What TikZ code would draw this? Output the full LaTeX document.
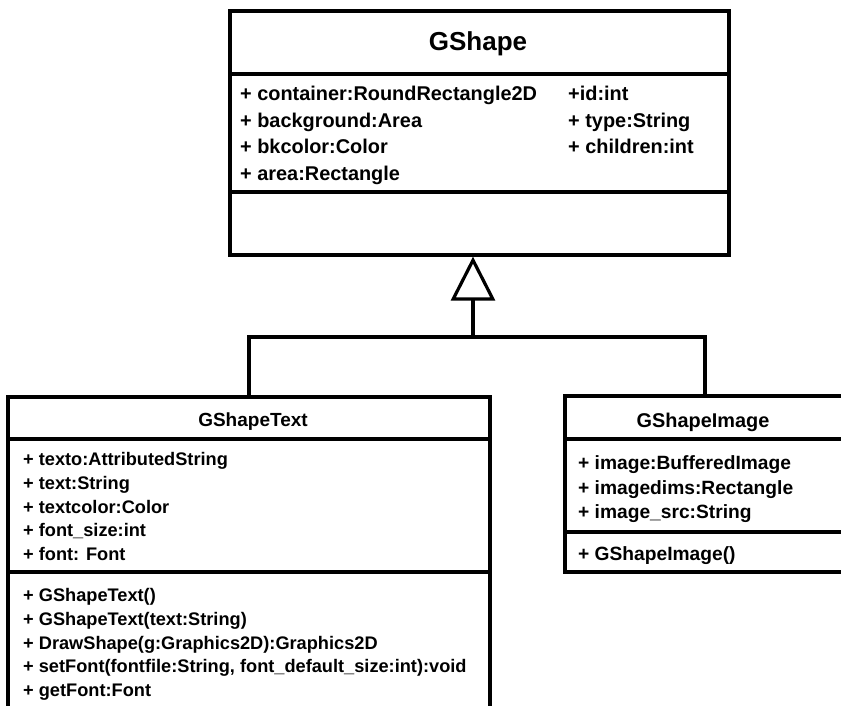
\documentclass[tikz,border=0pt]{standalone}
\usepackage{fontspec}
\setmainfont{Liberation Sans}
\usetikzlibrary{arrows.meta}

\begin{document}
\begin{tikzpicture}[x=1pt,y=-1pt,
  umlline/.style={line width=3.2pt, black},
  classbox/.style={draw, umlline, rectangle, inner sep=0pt, fill=white},
  titletext/.style={anchor=base, inner sep=0pt, font=\bfseries\fontsize{#1}{#1}\selectfont},
  rowtext/.style={anchor=base west, inner sep=0pt, font=\bfseries\fontsize{#1}{#1}\selectfont},
  generalization/.style={umlline, -{Triangle[open, length=44pt, width=44pt, line width=3.2pt]}}
]
\useasboundingbox (0,0) rectangle (841,706);
\fill[white] (0,0) rectangle (841,706);

% ---------- GShape ----------
\node[classbox, minimum width=499pt, minimum height=244pt] (gshape) at (479.5,133) {};
\draw[umlline] (gshape.west |- 0,74) -- (gshape.east |- 0,74);
\draw[umlline] (gshape.west |- 0,192) -- (gshape.east |- 0,192);
\node[titletext=26] (gshapeTitle) at (478,51) {GShape};
\node[rowtext=19.9] (gsA1) at (240,101) {+ container:RoundRectangle2D};
\node[rowtext=19.9] (gsA2) at (240,127.5) {+ background:Area};
\node[rowtext=19.9] (gsA3) at (240,154) {+ bkcolor:Color};
\node[rowtext=19.9] (gsA4) at (240,180.5) {+ area:Rectangle};
\node[rowtext=19.9] (gsB1) at (568,101) {+id:int};
\node[rowtext=19.9] (gsB2) at (568,127.5) {+ type:String};
\node[rowtext=19.9] (gsB3) at (568,154) {+ children:int};

% ---------- GShapeText ----------
\node[classbox, minimum width=482pt, minimum height=318pt] (gtext) at (249,556) {};
\draw[umlline] (gtext.west |- 0,439) -- (gtext.east |- 0,439);
\draw[umlline] (gtext.west |- 0,572) -- (gtext.east |- 0,572);
\node[titletext=19] (gtextTitle) at (253,426) {GShapeText};
\node[rowtext=18.2] (gtA1) at (23,465.5) {+ texto:AttributedString};
\node[rowtext=18.2] (gtA2) at (23,489.5) {+ text:String};
\node[rowtext=18.2] (gtA3) at (23,513) {+ textcolor:Color};
\node[rowtext=18.2] (gtA4) at (23,536.5) {+ font\_size:int};
\node[rowtext=18.2] (gtA5) at (23,560) {+ font: Font};
\node[rowtext=18.2] (gtM1) at (23,601.5) {+ GShapeText()};
\node[rowtext=18.2] (gtM2) at (23,625.5) {+ GShapeText(text:String)};
\node[rowtext=18.2] (gtM3) at (23,649.5) {+ DrawShape(g:Graphics2D):Graphics2D};
\node[rowtext=18.2] (gtM4) at (23,672.5) {+ setFont(fontfile:String, font\_default\_size:int):void};
\node[rowtext=18.2] (gtM5) at (23,696.5) {+ getFont:Font};

% ---------- GShapeImage ----------
\node[classbox, minimum width=280pt, minimum height=176pt] (gimage) at (705,484) {};
\draw[umlline] (gimage.west |- 0,439) -- (gimage.east |- 0,439);
\draw[umlline] (gimage.west |- 0,532) -- (gimage.east |- 0,532);
\node[titletext=19.9] (gimageTitle) at (703,427) {GShapeImage};
\node[rowtext=19.2] (giA1) at (578,469) {+ image:BufferedImage};
\node[rowtext=19.2] (giA2) at (578,494) {+ imagedims:Rectangle};
\node[rowtext=19.2] (giA3) at (578,518) {+ image\_src:String};
\node[rowtext=19.2] (giM1) at (578,560) {+ GShapeImage()};

% ---------- Generalization ----------
\coordinate (fork) at (473,337);
\draw[umlline] (gtext.north) |- (fork) -| (gimage.north);
\draw[generalization] (fork) -- (fork |- gshape.south);
\end{tikzpicture}
\end{document}
